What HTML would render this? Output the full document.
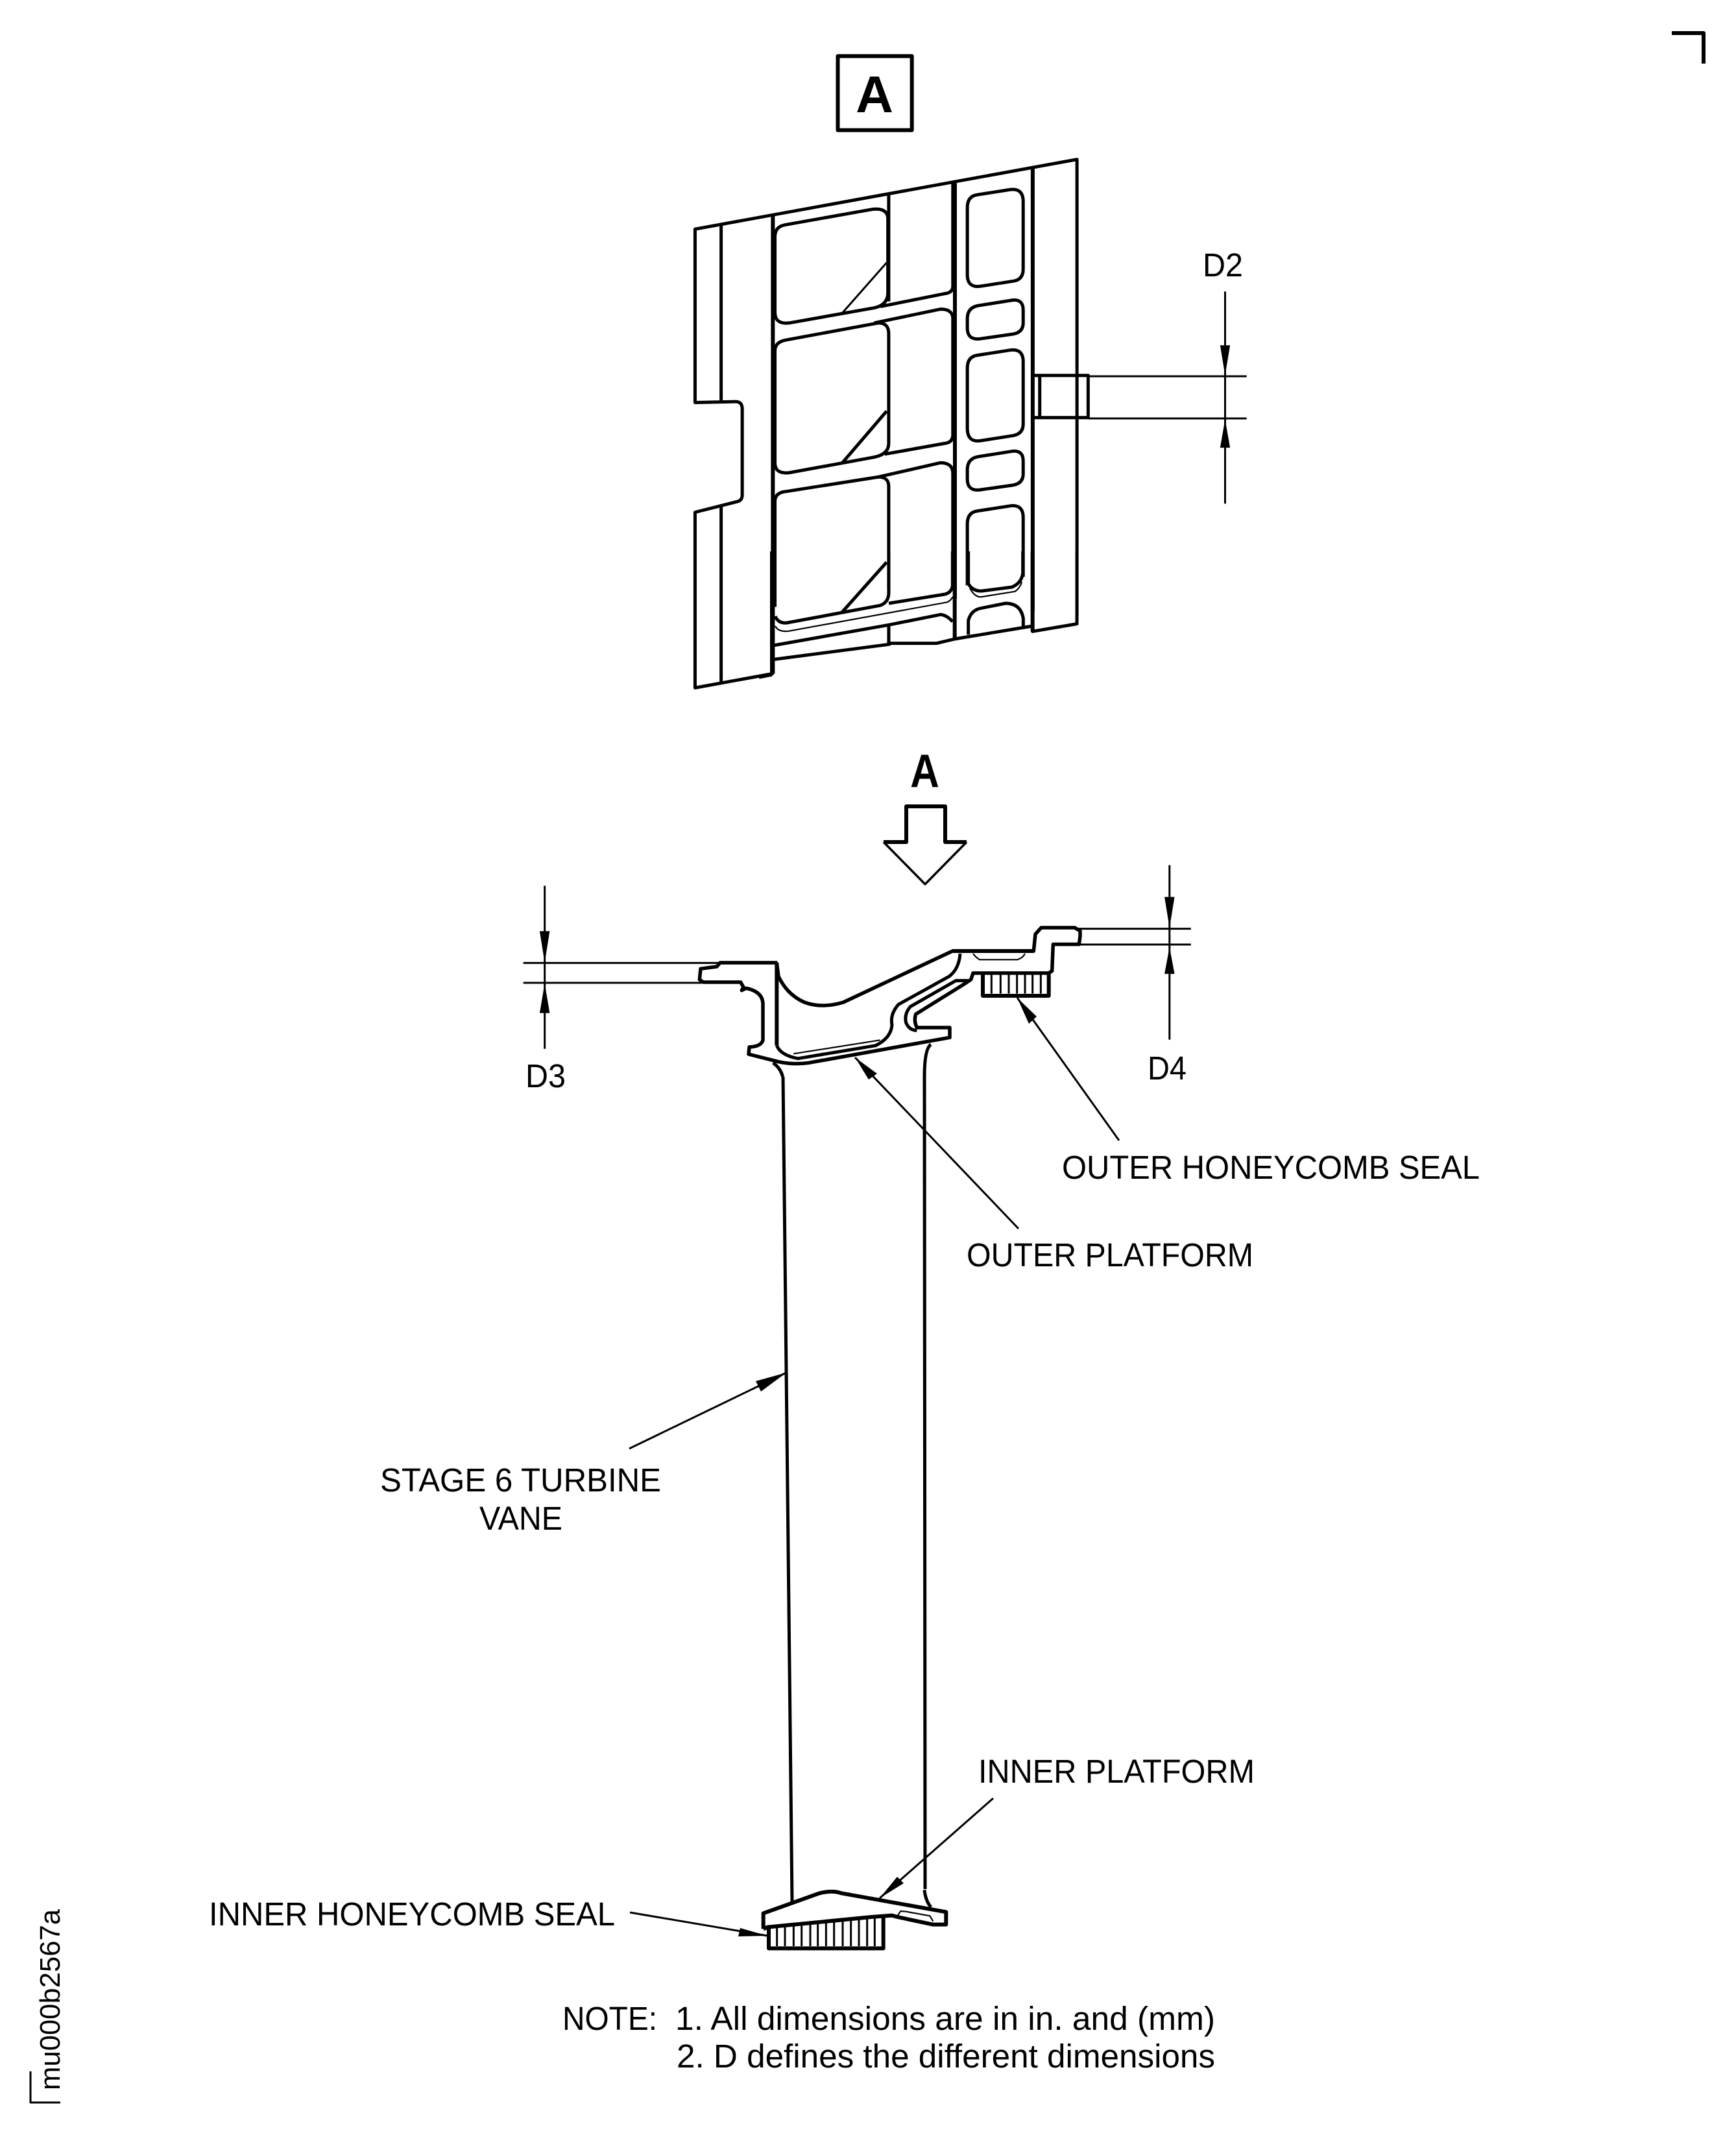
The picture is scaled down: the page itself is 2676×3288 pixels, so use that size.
<!DOCTYPE html>
<html><head><meta charset="utf-8"><title>Stage 6 turbine vane</title>
<style>html,body{margin:0;padding:0;background:#fff}svg{display:block}
text{font-family:"Liberation Sans",sans-serif;font-size:51px;fill:#000}
.m path,.m line,.m rect{fill:none;stroke:#000;stroke-width:5;vector-effect:non-scaling-stroke;stroke-linejoin:round}
.m .k{stroke-width:6}
.m .t{stroke-width:3}
.m .f{stroke-width:2.2}
.h{fill:#000;stroke:none}
</style></head><body>
<svg width="2676" height="3288" viewBox="0 0 2676 3288" xmlns="http://www.w3.org/2000/svg">
<rect width="2676" height="3288" fill="#fff"/>
<g class="m">
<path class="k" d="M2577 51H2626V98"/>
<path class="t" d="M47 3193V3241H93"/>
</g>
<!-- Top view -->
<g class="m" transform="translate(1000,60) scale(.6378,.6633)">
<rect x="457" y="40" width="179" height="172" class="k"/>
<path d="M1035 1340L1035 280L112 442V845L210 843Q226 843 226 860V1060Q226 1072 215 1075L112 1100V1508L300 1475"/>
<path d="M175 432V843M175 1085V1497"/>
<path class="k" d="M300 412V1475M740 335V1300M928 298V1330"/>
<path d="M330 432L540 396Q575 392 578 415V590Q578 618 545 625L340 660Q305 664 305 635V460Q305 436 330 432Z"/>
<path d="M580 362V610M560 622L715 592Q735 590 735 575V335"/>
<path d="M330 700L555 660Q580 660 580 685V940Q580 965 545 972L340 1008Q305 1012 305 985V725Q305 705 330 700Z"/>
<path d="M545 660L705 628Q735 628 735 650V920Q735 938 715 940L570 965"/>
<path d="M330 1052L555 1018Q580 1018 580 1040V1280M555 1018L705 985Q735 985 735 1010V1270"/>
<path d="M305 1075Q305 1055 330 1052M305 1075V1320"/>
<path class="t" d="M465 640L575 520"/>
<path d="M468 985L575 865"/>
<path d="M795 362L875 350Q905 347 905 378V535Q905 560 880 563L800 575Q770 578 770 548V392Q770 365 795 362Z"/>
<path d="M795 620L880 607Q905 605 905 630V660Q905 682 880 686L800 697Q770 700 770 672V650Q770 625 795 620Z"/>
<path d="M795 735L875 723Q905 720 905 750V895Q905 918 880 922L800 934Q770 937 770 905V765Q770 738 795 735Z"/>
<path d="M795 971L880 958Q905 956 905 981V1011Q905 1033 880 1037L800 1048Q770 1051 770 1023V1001Q770 976 795 971Z"/>
<path d="M770 1270V1127Q770 1100 795 1097L875 1085Q905 1082 905 1112V1250"/>
<path d="M932 782H1062V880H932M945 782V880"/>
<path class="t" d="M1062 784H1445M1062 882H1445M1393 587V1080"/>
<path style="fill:#000;stroke:none" d="M1393 782L1381 712H1405ZM1393 884L1381 950H1405Z"/>
</g>
<!-- Top view bottom area: 3x crop coordinates -->
<g class="m" transform="translate(1170,850) scale(.33333)">
<path d="M1470 0V335L1265 370V345L905 405L820 425H610L600 430L65 500M600 340V430M65 435L600 340L840 292Q870 295 895 325"/>
<path class="k" d="M905 0V405M1265 0V370M60 0V570"/>
<path d="M60 570L0 582M600 0V190Q600 235 560 250L130 330Q90 335 75 300M600 240L860 198Q890 190 895 160V0"/>
<path class="f" d="M75 345Q90 375 140 368L870 235Q890 225 895 210"/>
<path d="M385 280L590 50"/>
<path d="M968 0V150Q990 185 1030 183L1170 165Q1215 145 1220 100V0"/>
<path class="f" d="M975 170Q1000 215 1030 210L1185 185Q1210 165 1215 140"/>
<path d="M968 385V320Q980 270 1030 262L1140 240Q1210 240 1222 310V350"/>
</g>
<!-- View arrow -->
<g class="m">
<path class="k" d="M1362 1298H1397V1243H1457V1298H1490"/>
<path style="stroke-width:3.5" d="M1362 1298L1426 1363L1490 1298"/>
</g>
<!-- Outer platform: 3x crop coordinates -->
<g class="m" transform="translate(1060,1440) scale(.33333)">
<path style="stroke-width:5.5" d="M415 132H150L135 150L60 160L55 210L72 222H245L258 245L250 260L270 250Q345 265 348 320V490Q340 520 285 522L282 555L420 590Q490 605 560 595L1212 478V432H1060Q1045 400 1055 370L1280 230L1310 210L1320 180H1670L1685 170L1690 47H1810L1815 10V-15L1790 -30H1635L1608 0L1600 78H1225L720 315Q620 345 540 315Q460 280 420 195L412 132"/>
<path class="k" d="M1225 78H1600M412 132V515"/>
<path style="stroke-width:5" d="M412 515Q430 560 510 575L870 515Q940 480 945 420Q935 370 975 325L1210 195Q1255 160 1260 90"/>
<path d="M1300 215H1240L1030 335Q1000 370 1010 410Q1025 445 1060 445"/>
<path class="f" d="M490 553L890 490M1320 90Q1330 105 1350 118H1525Q1550 110 1560 90"/>
<path class="k" d="M1365 185V285H1670V180"/>
<path class="t" d="M1405 185V275M1447 185V275M1485 185V275M1523 185V275M1560 185V275M1595 185V275M1633 185V275"/>
<path d="M395 595Q430 620 440 660M1125 510Q1095 530 1095 660"/>
</g>
<!-- Vane edges -->
<g class="m"><path d="M1207 1660L1221 2933M1425 1660L1426 2912"/></g>
<!-- Dimensions outer platform -->
<g class="m" transform="translate(780,1130) scale(.7015,.3827)">
<path class="t" d="M38 926H470M38 1006H430M1255 788H1505M1255 852H1505M85 615V1272M1458 532V1235"/>
<path style="fill:#000;stroke:none" d="M85 925L74 798H96ZM85 1008L74 1128H96ZM1458 785L1447 660H1469ZM1458 862L1447 970H1469Z"/>
</g>
<!-- Inner platform -->
<g class="m" transform="translate(1050,2850) scale(.33333)">
<path class="k" d="M380 370V298L640 205Q700 190 740 205L1225 292V350H1165L1000 315L975 308L880 315L400 362L380 370"/>
<path class="k" d="M405 365V460H935V315"/>
<path class="t" d="M443 358V450M480 354V450M520 350V450M557 346V450M597 342V450M632 339V450M670 335V450M707 331V450M747 328V450M785 324V450M822 320V450M860 316V450M895 313V450"/>
<path class="f" d="M1000 310L1015 288L1040 290L1150 310L1165 335"/>
<path d="M1125 190Q1130 240 1155 270"/>
</g>
<!-- Leaders -->
<g class="m">
<path class="t" d="M1318 1630L1570 1894M1568 1538L1725 1758M1212 2116L970 2233M1356 2926L1531 2772M1183 2984L971 2948"/>
</g>
<path class="h" d="M1318 1630L1352 1655L1339 1664ZM1568 1538L1598 1567L1586 1578ZM1212 2116L1173 2145L1165 2129ZM1356 2926L1383 2893L1393 2903ZM1183 2984L1141 2972L1138 2985Z"/>
<!-- Text -->
<text x="1348" y="173" text-anchor="middle" style="font-size:80px;font-weight:bold">A</text>
<text transform="translate(1425.5,1213) scale(1,1.16)" text-anchor="middle" style="font-size:62px;font-weight:bold">A</text>
<text x="1854" y="426" textLength="62" lengthAdjust="spacingAndGlyphs">D2</text>
<text x="810" y="1676" textLength="62" lengthAdjust="spacingAndGlyphs">D3</text>
<text x="1769" y="1664" textLength="60" lengthAdjust="spacingAndGlyphs">D4</text>
<text x="1637" y="1817" textLength="644" lengthAdjust="spacingAndGlyphs">OUTER HONEYCOMB SEAL</text>
<text x="1490" y="1952" textLength="442" lengthAdjust="spacingAndGlyphs">OUTER PLATFORM</text>
<text x="586" y="2299" textLength="433" lengthAdjust="spacingAndGlyphs">STAGE 6 TURBINE</text>
<text x="739" y="2358" textLength="128" lengthAdjust="spacingAndGlyphs">VANE</text>
<text x="1508" y="2748" textLength="426" lengthAdjust="spacingAndGlyphs">INNER PLATFORM</text>
<text x="322" y="2968" textLength="626" lengthAdjust="spacingAndGlyphs">INNER HONEYCOMB SEAL</text>
<text x="867" y="3129" textLength="146" lengthAdjust="spacingAndGlyphs">NOTE:</text>
<text x="1041" y="3129" textLength="832" lengthAdjust="spacingAndGlyphs">1. All dimensions are in in. and (mm)</text>
<text x="1043" y="3187" textLength="830" lengthAdjust="spacingAndGlyphs">2. D defines the different dimensions</text>
<text transform="translate(92,3222) rotate(-90)" textLength="279" lengthAdjust="spacingAndGlyphs" style="font-size:44px">mu000b2567a</text>
</svg>
</body></html>
